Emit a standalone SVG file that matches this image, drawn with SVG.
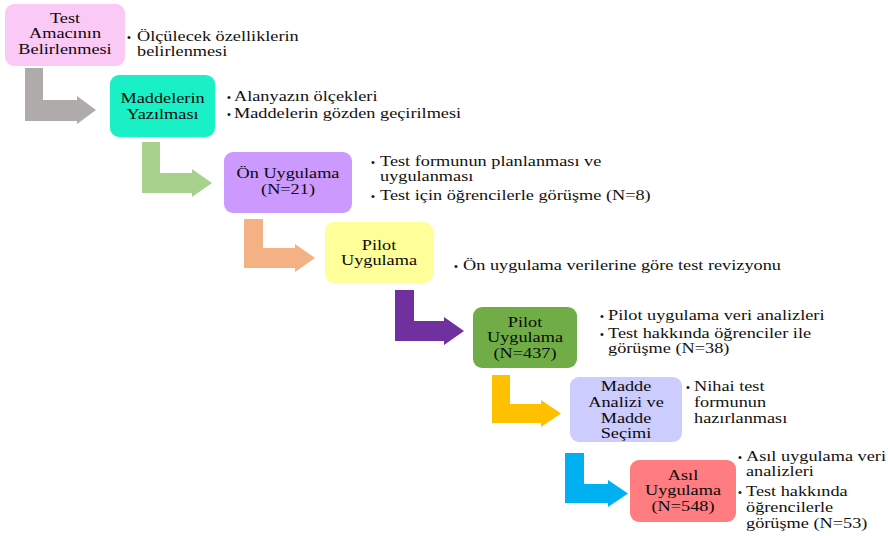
<svg xmlns="http://www.w3.org/2000/svg" width="888" height="536" viewBox="0 0 888 536">
<style>
  .lbl { font-family: 'Liberation Serif', 'Times New Roman', serif; font-size: 14.5px; fill: #0a0a0a; text-anchor: middle; }
  .txt { font-family: 'Liberation Serif', 'Times New Roman', serif; font-size: 14.5px; fill: #111; }
  .dot { font-family: 'Liberation Sans', Arial, sans-serif; font-size: 11px; fill: #111; }
</style>
<rect width="888" height="536" fill="#ffffff"/>

<g id="connectors">
  <polygon fill="#AFABAB" points="25,68 43,68 43,100 77,100 77,96 96,110 77,124 77,121 25,121"/>
  <polygon fill="#A9D18E" points="142,142 160,142 160,173 192,173 192,169 212,183 192,197 192,193 142,193"/>
  <polygon fill="#F4B183" points="244,219 263,219 263,248 295,248 295,244 315,258 295,272 295,268 244,268"/>
  <polygon fill="#7030A0" points="395,290 414,290 414,321 444,321 444,317 464,331 444,345 444,341 395,341"/>
  <polygon fill="#FFC000" points="492,375 510,375 510,404 541,404 541,400 561,413.5 541,427 541,423 492,423"/>
  <polygon fill="#00B0F0" points="565,453 584,453 584,484 608,484 608,480 628,493.5 608,507 608,503 565,503"/>
</g>

<g id="node1">
  <rect x="5" y="4" width="120" height="62" rx="9" fill="#FBC9F5"/>
  <text class="lbl" transform="translate(65 0) scale(1.26 1)"><tspan x="0" y="23">Test</tspan><tspan x="0" y="38.5">Amacının</tspan><tspan x="0" y="54">Belirlenmesi</tspan></text>
  <text class="dot" x="127" y="41">•</text>
  <text class="txt" transform="translate(137 0) scale(1.26 1)"><tspan x="0" y="41.5">Ölçülecek özelliklerin</tspan><tspan x="0" y="56.5">belirlenmesi</tspan></text>
</g>

<g id="node2">
  <rect x="110" y="75" width="105" height="62" rx="9" fill="#19F0C6"/>
  <text class="lbl" transform="translate(162.5 0) scale(1.26 1)"><tspan x="0" y="103">Maddelerin</tspan><tspan x="0" y="119">Yazılması</tspan></text>
  <text class="dot" x="227" y="100.5">•</text>
  <text class="dot" x="227" y="117.5">•</text>
  <text class="txt" transform="translate(234 0) scale(1.26 1)"><tspan x="0" y="101">Alanyazın ölçekleri</tspan><tspan x="0" y="118">Maddelerin gözden geçirilmesi</tspan></text>
</g>

<g id="node3">
  <rect x="224" y="152" width="128" height="61" rx="9" fill="#CC99FF"/>
  <text class="lbl" transform="translate(288 0) scale(1.26 1)"><tspan x="0" y="178">Ön Uygulama</tspan><tspan x="0" y="194">(N=21)</tspan></text>
  <text class="dot" x="371" y="165.5">•</text>
  <text class="dot" x="371" y="199.5">•</text>
  <text class="txt" transform="translate(380 0) scale(1.26 1)"><tspan x="0" y="166">Test formunun planlanması ve</tspan><tspan x="0" y="181.5">uygulanması</tspan><tspan x="0" y="200">Test için öğrencilerle görüşme (N=8)</tspan></text>
</g>

<g id="node4">
  <rect x="325" y="222" width="108" height="61" rx="9" fill="#FFFF99"/>
  <text class="lbl" transform="translate(379 0) scale(1.26 1)"><tspan x="0" y="250">Pilot</tspan><tspan x="0" y="265.5">Uygulama</tspan></text>
  <text class="dot" x="454" y="269.5">•</text>
  <text class="txt" transform="translate(463 0) scale(1.26 1)"><tspan x="0" y="270">Ön uygulama verilerine göre test revizyonu</tspan></text>
</g>

<g id="node5">
  <rect x="473" y="307" width="104" height="61" rx="9" fill="#70AD47"/>
  <text class="lbl" transform="translate(525 0) scale(1.26 1)"><tspan x="0" y="327">Pilot</tspan><tspan x="0" y="342.5">Uygulama</tspan><tspan x="0" y="358">(N=437)</tspan></text>
  <text class="dot" x="600" y="319.5">•</text>
  <text class="dot" x="600" y="337.5">•</text>
  <text class="txt" transform="translate(608 0) scale(1.26 1)"><tspan x="0" y="320">Pilot uygulama veri analizleri</tspan><tspan x="0" y="338">Test hakkında öğrenciler ile</tspan><tspan x="0" y="353.5">görüşme (N=38)</tspan></text>
</g>

<g id="node6">
  <rect x="570" y="377" width="112" height="65" rx="9" fill="#CCCCFF"/>
  <text class="lbl" transform="translate(626 0) scale(1.26 1)"><tspan x="0" y="391">Madde</tspan><tspan x="0" y="406.8">Analizi ve</tspan><tspan x="0" y="422.6">Madde</tspan><tspan x="0" y="438.4">Seçimi</tspan></text>
  <text class="dot" x="686" y="390.5">•</text>
  <text class="txt" transform="translate(694 0) scale(1.26 1)"><tspan x="0" y="391">Nihai test</tspan><tspan x="0" y="407">formunun</tspan><tspan x="0" y="423">hazırlanması</tspan></text>
</g>

<g id="node7">
  <rect x="630" y="460" width="106" height="62" rx="9" fill="#FF7C80"/>
  <text class="lbl" transform="translate(683 0) scale(1.26 1)"><tspan x="0" y="480">Asıl</tspan><tspan x="0" y="495.5">Uygulama</tspan><tspan x="0" y="511">(N=548)</tspan></text>
  <text class="dot" x="738" y="460.5">•</text>
  <text class="dot" x="738" y="495.5">•</text>
  <text class="txt" transform="translate(746 0) scale(1.26 1)"><tspan x="0" y="461">Asıl uygulama veri</tspan><tspan x="0" y="476.5">analizleri</tspan><tspan x="0" y="496">Test hakkında</tspan><tspan x="0" y="512">öğrencilerle</tspan><tspan x="0" y="528">görüşme (N=53)</tspan></text>
</g>
</svg>
